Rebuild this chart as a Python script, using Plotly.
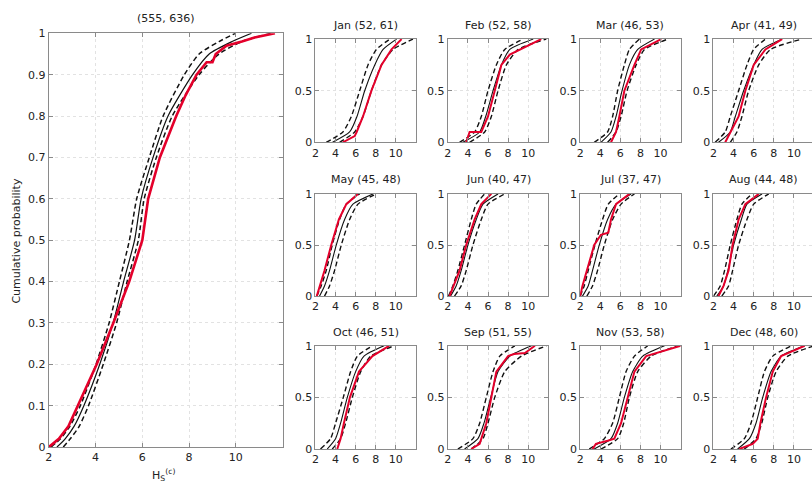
import plotly.graph_objects as go

W, H = 812, 493

# ---------------- data ----------------
MAIN_TITLE = "(555, 636)"
P_MAIN = [0, 0.02, 0.05, 0.1, 0.2, 0.3, 0.4, 0.5, 0.6, 0.7, 0.8, 0.9, 0.95, 0.98, 1]
main_lower = [2.1, 2.5, 2.9, 3.35, 4.02, 4.58, 5.02, 5.45, 5.76, 6.3, 6.89, 7.8, 8.43, 9.28, 9.98]
main_model = [2.35, 2.7, 3.08, 3.5, 4.18, 4.75, 5.2, 5.67, 5.95, 6.46, 7.1, 8.15, 8.86, 9.84, 10.67]
main_upper = [2.62, 2.92, 3.3, 3.7, 4.33, 4.9, 5.35, 5.83, 6.08, 6.6, 7.28, 8.43, 9.28, 10.26, 11.5]
main_obs_p = [0, 0.01, 0.02, 0.05, 0.1, 0.15, 0.2, 0.3, 0.4, 0.5, 0.6, 0.7, 0.8, 0.85,
              0.9, 0.93, 0.93, 0.95, 0.97, 0.98, 0.99, 1]
main_obs_x = [2.0, 2.2, 2.43, 2.84, 3.25, 3.65, 4.05, 4.76, 5.44, 6.0, 6.25, 6.75, 7.45, 7.85,
              8.32, 8.75, 9.0, 9.14, 9.6, 10.26, 10.8, 11.67]

MONTHS = ["Jan", "Feb", "Mar", "Apr", "May", "Jun", "Jul", "Aug", "Oct", "Sep", "Nov", "Dec"]
COUNTS = {"Jan": (52, 61), "Feb": (52, 58), "Mar": (46, 53), "Apr": (41, 49),
          "May": (45, 48), "Jun": (40, 47), "Jul": (37, 47), "Aug": (44, 48),
          "Oct": (46, 51), "Sep": (51, 55), "Nov": (53, 58), "Dec": (48, 60)}

P_SMALL = [0, 0.1, 0.25, 0.5, 0.75, 0.9, 1]
LOWER = {
    "Jan": [3.07, 4.73, 5.57, 6.4, 7.23, 8.07, 9.4],
    "Feb": [3.17, 4.67, 5.33, 6.0, 6.83, 7.67, 9.5],
    "Mar": [3.4, 4.73, 5.23, 5.73, 6.4, 6.9, 7.9],
    "Apr": [2.17, 3.17, 3.67, 4.5, 5.33, 6.0, 7.17],
    "May": [2.13, 2.57, 3.07, 3.67, 4.4, 5.07, 6.4],
    "Jun": [2.07, 2.5, 3.0, 3.67, 4.33, 4.83, 5.67],
    "Jul": [2.0, 2.4, 2.8, 3.47, 4.23, 4.8, 5.9],
    "Aug": [2.0, 2.67, 3.1, 3.67, 4.33, 4.83, 5.83],
    "Oct": [2.5, 3.5, 4.0, 4.77, 5.5, 6.17, 7.67],
    "Sep": [3.0, 4.5, 5.17, 5.83, 6.5, 7.17, 8.67],
    "Nov": [2.9, 4.4, 5.23, 5.9, 6.57, 7.4, 8.73],
    "Dec": [3.73, 5.07, 5.73, 6.4, 7.07, 7.9, 9.73],
}
MODEL = {
    "Jan": [3.7, 5.4, 6.13, 6.9, 7.9, 8.73, 10.07],
    "Feb": [3.5, 5.17, 5.77, 6.5, 7.33, 8.17, 10.5],
    "Mar": [4.07, 5.07, 5.57, 6.17, 6.9, 7.73, 9.4],
    "Apr": [2.5, 3.67, 4.17, 5.0, 6.0, 6.83, 8.83],
    "May": [2.4, 2.9, 3.4, 4.07, 4.9, 5.73, 7.73],
    "Jun": [2.27, 2.83, 3.33, 4.0, 4.83, 5.5, 7.0],
    "Jul": [2.23, 2.8, 3.23, 3.9, 4.73, 5.57, 7.07],
    "Aug": [2.33, 3.0, 3.43, 4.0, 4.77, 5.33, 6.83],
    "Oct": [3.17, 4.0, 4.5, 5.17, 6.0, 6.83, 8.83],
    "Sep": [3.67, 5.0, 5.6, 6.27, 7.0, 8.17, 10.33],
    "Nov": [3.4, 5.07, 5.73, 6.4, 7.23, 8.23, 10.4],
    "Dec": [4.4, 5.57, 6.23, 6.9, 7.73, 8.73, 11.07],
}
UPPER = {
    "Jan": [4.4, 5.9, 6.73, 7.57, 8.57, 9.73, 11.7],
    "Feb": [4.17, 5.67, 6.33, 7.0, 7.83, 9.0, 11.8],
    "Mar": [4.73, 5.57, 6.07, 6.67, 7.57, 8.4, 10.73],
    "Apr": [3.67, 4.33, 4.83, 5.5, 6.5, 7.67, 10.8],
    "May": [2.9, 3.4, 3.9, 4.57, 5.4, 6.23, 8.07],
    "Jun": [2.67, 3.33, 3.83, 4.5, 5.33, 6.0, 7.67],
    "Jul": [2.67, 3.23, 3.73, 4.4, 5.23, 6.07, 7.4],
    "Aug": [2.83, 3.5, 3.9, 4.5, 5.33, 6.0, 7.5],
    "Oct": [3.67, 4.5, 5.0, 5.67, 6.5, 7.5, 9.83],
    "Sep": [4.33, 5.5, 6.0, 6.67, 7.67, 9.33, 11.83],
    "Nov": [4.07, 5.73, 6.33, 6.9, 7.73, 9.07, 11.73],
    "Dec": [5.07, 6.23, 6.8, 7.4, 8.23, 9.4, 12.0],
}
OBS_P = {
    "Jan": [0, 0.03, 0.06, 0.1, 0.25, 0.5, 0.75, 0.9, 1],
    "Feb": [0, 0.1, 0.1, 0.25, 0.5, 0.75, 0.85, 0.9, 1],
    "Mar": P_SMALL, "Apr": P_SMALL, "May": P_SMALL, "Jun": P_SMALL,
    "Jul": [0, 0.1, 0.25, 0.5, 0.6, 0.62, 0.75, 0.9, 1],
    "Aug": P_SMALL, "Oct": P_SMALL,
    "Sep": [0, 0.05, 0.25, 0.5, 0.75, 0.9, 0.92, 0.93, 1],
    "Nov": [0, 0.05, 0.08, 0.1, 0.25, 0.5, 0.75, 0.9, 1],
    "Dec": [0, 0.05, 0.1, 0.25, 0.5, 0.75, 0.9, 1],
}
OBS_X = {
    "Jan": [4.73, 5.3, 5.9, 6.1, 6.73, 7.57, 8.57, 9.57, 10.57],
    "Feb": [3.83, 4.17, 5.33, 6.0, 6.67, 7.33, 8.17, 9.17, 11.3],
    "Mar": [5.07, 5.57, 5.9, 6.4, 7.4, 8.07, 10.07],
    "Apr": [3.17, 3.67, 4.5, 5.17, 6.0, 7.17, 8.83],
    "May": [2.13, 2.47, 2.9, 3.57, 4.33, 5.07, 6.23],
    "Jun": [2.17, 2.6, 3.17, 3.83, 4.67, 5.33, 6.33],
    "Jul": [2.0, 2.23, 2.67, 3.4, 4.07, 4.8, 5.07, 5.57, 6.9],
    "Aug": [2.5, 3.0, 3.5, 3.9, 4.5, 5.17, 6.5],
    "Oct": [4.17, 4.5, 4.83, 5.43, 6.33, 7.67, 9.33],
    "Sep": [4.33, 5.17, 5.83, 6.33, 6.83, 8.0, 8.6, 9.67, 10.67],
    "Nov": [3.23, 3.57, 4.73, 5.4, 6.07, 6.73, 7.4, 8.57, 12.0],
    "Dec": [4.57, 5.9, 6.4, 6.67, 7.23, 7.9, 8.73, 11.07],
}
X_TICKS = [2, 4, 6, 8, 10]
MAIN_Y_TICKS = [0, 0.1, 0.2, 0.3, 0.4, 0.5, 0.6, 0.7, 0.8, 0.9, 1]
MAIN_Y_TEXT = ["0", "0.1", "0.2", "0.3", "0.4", "0.5", "0.6", "0.7", "0.8", "0.9", "1"]
SMALL_Y_TICKS = [0, 0.5, 1]
SMALL_Y_TEXT = ["0", "0.5", "1"]

# ---------------- styling / layout ----------------
FONT = "DejaVu Sans"
RED = "#e4002b"
AX = "#8a8a8a"
GRID = "#e2e2e2"

fig = go.Figure()
layout = dict(width=W, height=H, margin=dict(l=0, r=0, t=0, b=0),
              paper_bgcolor="white", plot_bgcolor="white", showlegend=False,
              font=dict(family=FONT, size=11, color="#222"), annotations=[])


def px_x(p):
    return p / W


def px_y(p):
    return 1 - p / H


def add_axes(idx, x0, x1, ytop, ybot, xrange, yticks, ytext, right_edge=False):
    sfx = "" if idx == 1 else str(idx)
    common = dict(showline=True, linecolor=AX, linewidth=1, ticks="inside", ticklen=4,
                  tickcolor=AX, showgrid=True, gridcolor=GRID, griddash="dot", gridwidth=1,
                  zeroline=False, tickfont=dict(family=FONT, size=11, color="#222"))
    layout["xaxis" + sfx] = dict(common, domain=[px_x(x0), min(1.0, px_x(x1))],
                                 range=xrange, tickvals=X_TICKS, mirror="ticks",
                                 anchor="y" + sfx)
    layout["yaxis" + sfx] = dict(common, domain=[px_y(ybot), px_y(ytop)],
                                 range=[0, 1], tickvals=yticks, ticktext=ytext,
                                 mirror=False if right_edge else "ticks",
                                 anchor="x" + sfx)


def add_curves(idx, plow, lower, model, upper, pobs, xobs, red_w, blk_w):
    sfx = "" if idx == 1 else str(idx)
    kw = dict(xaxis="x" + sfx, yaxis="y" + sfx, mode="lines", hoverinfo="skip")
    for xs in (lower, upper):
        fig.add_trace(go.Scatter(x=xs, y=plow, line=dict(color="#111", width=blk_w + 0.3,
                                 dash="5px,3px", shape="spline", smoothing=0.6), **kw))
    fig.add_trace(go.Scatter(x=model, y=plow, line=dict(color="#111", width=blk_w,
                             shape="spline", smoothing=0.6), **kw))
    fig.add_trace(go.Scatter(x=xobs, y=pobs, line=dict(color=RED, width=red_w), **kw))


# main panel
add_axes(1, 45, 280, 28, 453, [2, 12], MAIN_Y_TICKS, MAIN_Y_TEXT)
add_curves(1, P_MAIN, main_lower, main_model, main_upper, main_obs_p, main_obs_x, 2.6, 1.2)
layout["annotations"].append(dict(text=MAIN_TITLE, x=px_x(162.5), y=px_y(13), xref="paper",
                                  yref="paper", showarrow=False, xanchor="center",
                                  yanchor="middle", font=dict(size=11)))
layout["annotations"].append(dict(text="Cumulative probability", x=px_x(13), y=px_y(241),
                                  xref="paper", yref="paper", showarrow=False, textangle=-90,
                                  xanchor="center", yanchor="middle", font=dict(size=11)))
layout["annotations"].append(dict(text="H<sub>S</sub><sup>(c)</sup>", x=px_x(160), y=px_y(482),
                                  xref="paper", yref="paper", showarrow=False,
                                  xanchor="center", yanchor="middle", font=dict(size=11)))

COL_X = [313, 446, 579, 713]
ROW_Y = [(34, 140, 20), (193, 298, 178), (349, 455, 335)]
UNIT = 10.1  # px per unit in the small panels
for k, m in enumerate(MONTHS):
    r, c = divmod(k, 4)
    idx = k + 2
    x0 = COL_X[c]
    x1 = x0 + 10 * UNIT
    edge = c == 3
    if edge:
        x1 = W
    xr = [2, 2 + (x1 - x0) / UNIT]
    ytop, ybot, ttl = ROW_Y[r]
    add_axes(idx, x0, x1, ytop, ybot, xr, SMALL_Y_TICKS, SMALL_Y_TEXT, right_edge=edge)
    add_curves(idx, P_SMALL, LOWER[m], MODEL[m], UPPER[m], OBS_P[m], OBS_X[m], 2.0, 1.1)
    a, b = COUNTS[m]
    layout["annotations"].append(dict(text=f"{m} ({a}, {b})", x=px_x(x0 + 5 * UNIT),
                                      y=px_y(ttl), xref="paper", yref="paper",
                                      showarrow=False, xanchor="center", yanchor="middle",
                                      font=dict(size=11)))

fig.update_layout(**layout)
fig.write_html("out.html")
